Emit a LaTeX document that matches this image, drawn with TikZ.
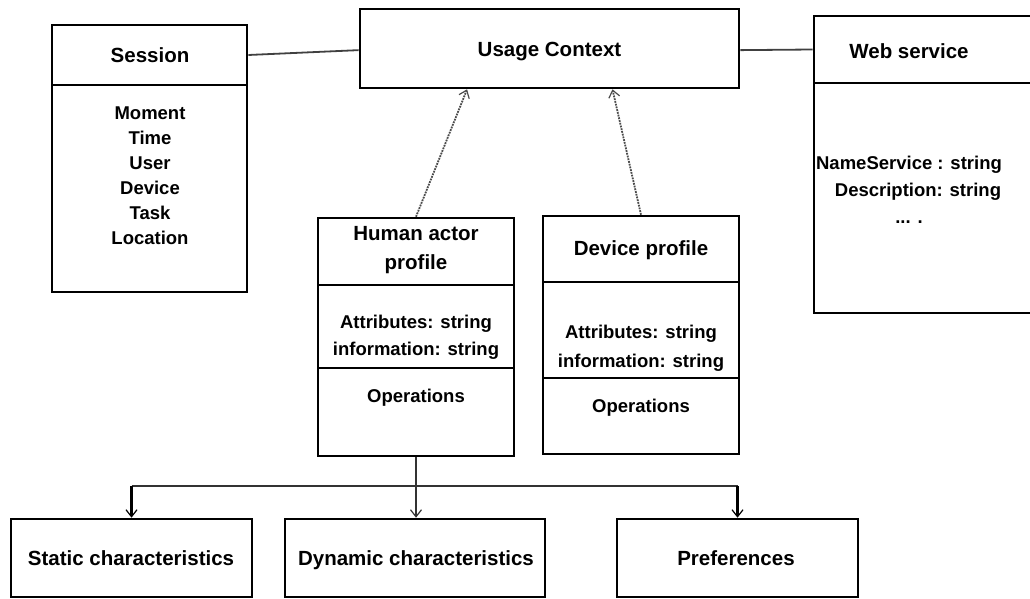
\documentclass[tikz,border=0pt]{standalone}
\usepackage{fontspec}
\setmainfont{Liberation Sans}
\usetikzlibrary{arrows.meta,calc,fit}
\begin{document}
\begin{tikzpicture}[x=1pt,y=-1pt,
  box/.style={draw, line width=2.6pt, inner sep=0pt, rectangle},
  ttl/.style={font=\fontsize{20.5}{29}\selectfont\bfseries, align=center, inner sep=0pt, text depth=0pt},
  bod/.style={font=\fontsize{18.5}{25}\selectfont\bfseries, align=center, inner sep=0pt},
  assoc/.style={draw=black!75, line width=1.8pt},
  barb/.style={-{Straight Barb[length=7pt,width=11pt,line width=1.2pt]}},
  dep/.style={draw=black!70, line width=1.8pt, densely dotted, barb},
  tree/.style={draw=black!80, line width=1.8pt, barb},
  stub/.style={draw=black, line width=2.6pt, barb}]
\useasboundingbox (0,0) rectangle (1030,599);
\clip (0,0) rectangle (1030,599);

% Session
\node[box, fit={(52,25)(247,85)}] (sesT) {};
\node[box, fit={(52,85)(247,292)}] (sesB) {};
\node[ttl] (sesTt) at (150,55) {Session};
\node[bod] (sesBt) at (150,176) {Moment\\Time\\User\\Device\\Task\\Location};

% Usage context
\node[box, fit={(360,9)(739,88)}] (usage) {};
\node[ttl] (usaget) at (549.5,49) {Usage Context};

% Web service
\node[box, fit={(814,16)(1045,83)}] (webT) {};
\node[box, fit={(814,83)(1045,313)}] (webB) {};
\node[ttl] (webTt) at (909,51) {Web service};
\node[bod, font=\fontsize{18.5}{27}\selectfont\bfseries] (webBt) at (909,190) {NameService : string\\\hspace*{18pt}Description: string\\... .};

% Human actor profile
\node[box, fit={(318,218)(514,285)}] (humT) {};
\node[box, fit={(318,285)(514,368)}] (humA) {};
\node[box, fit={(318,368)(514,456)}] (humO) {};
\node[ttl] (humTt) at (416,248) {Human actor\\profile};
\node[bod, font=\fontsize{18.5}{27}\selectfont\bfseries] (humAt) at (416,337) {Attributes: string\\information: string};
\node[bod] (humOt) at (416,398) {Operations};

% Device profile
\node[box, fit={(543,216)(739,282)}] (devT) {};
\node[box, fit={(543,282)(739,378)}] (devA) {};
\node[box, fit={(543,378)(739,454)}] (devO) {};
\node[ttl] (devTt) at (641,248) {Device profile};
\node[bod, font=\fontsize{18.5}{29}\selectfont\bfseries] (devAt) at (641,348) {Attributes: string\\information: string};
\node[bod] (devOt) at (641,408) {Operations};

% Bottom boxes
\node[box, fit={(11,519)(252,597)}] (stat) {};
\node[box, fit={(285,519)(545,597)}] (dyn) {};
\node[box, fit={(617,519)(858,597)}] (pref) {};
\node[ttl] (statt) at (131,558) {Static characteristics};
\node[ttl] (dynt) at (416,558) {Dynamic characteristics};
\node[ttl] (preft) at (736,558) {Preferences};

% Associations
\draw[assoc] (sesT.east) -- ($(usage.north west)!0.52!(usage.south west)$);
\draw[assoc] ($(usage.north east)!0.52!(usage.south east)$) -- (webT.west);

% Dependencies
\draw[dep] (humT.north) -- ($(usage.south west)!0.284!(usage.south east)$);
\draw[dep] (devT.north) -- ($(usage.south west)!0.665!(usage.south east)$);

% Tree
\coordinate (hb) at ($(humO.south)+(0,29)$);
\draw[tree] (humO.south) -- (dyn.north -| humO.south);
\draw[draw=black!80, line width=1.8pt] (stat.north |- hb) -- (pref.north |- hb);
\draw[stub] (stat.north |- hb) -- (stat.north);
\draw[stub] (pref.north |- hb) -- (pref.north);
\end{tikzpicture}
\end{document}
